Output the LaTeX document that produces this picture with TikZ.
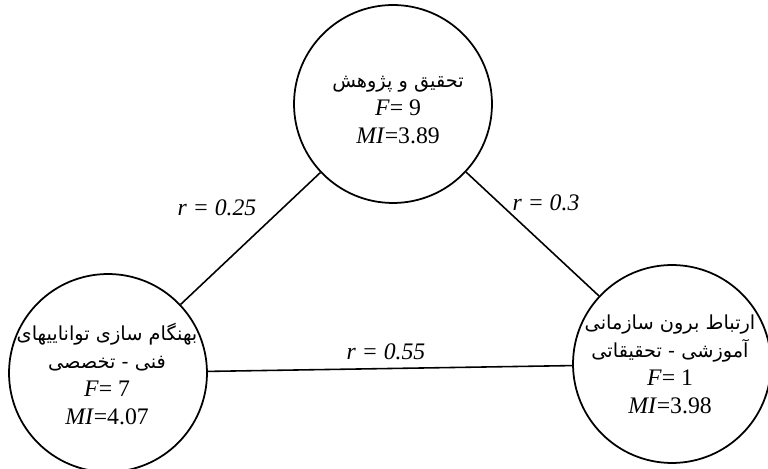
\documentclass[tikz,border=0pt]{standalone}
\usepackage{fontspec}
\setmainfont{Liberation Serif}
\newfontfamily\fafont[Script=Arabic]{DejaVu Sans}
\TeXXeTstate=1
\usetikzlibrary{positioning}
\newcommand{\fa}[1]{{\fafont\fontsize{11}{16}\selectfont\beginR #1\endR}}

\begin{document}
\begin{tikzpicture}[x=0.02cm,y=-0.02cm,
 topic/.style={circle,draw,line width=1pt,minimum size=3.96cm,inner sep=0pt},
 info/.style={align=center,inner sep=0pt,font=\fontsize{13.5}{16}\selectfont},
 corr/.style={inner sep=0pt,font=\fontsize{13.5}{16}\selectfont\itshape}]
\useasboundingbox (0,0) rectangle (768,469);
\node[topic] (res) at (393,104) {};
\node[topic] (upd) at (108,373) {};
\node[topic] (ext) at (672,364) {};
\node[info] (resT) at (398,110) {\fa{تحقیق و پژوهش}\\\textit{F}= 9\\\textit{MI}=3.89};
\node[info] (updT) at (107,374) {\fa{بهنگام سازی تواناییهای}\\\fa{فنی - تخصصی}\\\textit{F}= 7\\\textit{MI}=4.07};
\node[info] (extT) at (670,364) {\fa{ارتباط برون سازمانی}\\\fa{آموزشی - تحقیقاتی}\\\textit{F}= 1\\\textit{MI}=3.98};
\draw[line width=.9pt] (res)--(upd); \draw[line width=.9pt] (res)--(ext); \draw[line width=.9pt] (upd)--(ext);
\node[corr] (r1) at (217,208) {r = 0.25};
\node[corr] (r2) at (546,203) {r = 0.3};
\node[corr] (r3) at (386,352) {r = 0.55};
\end{tikzpicture}
\end{document}
